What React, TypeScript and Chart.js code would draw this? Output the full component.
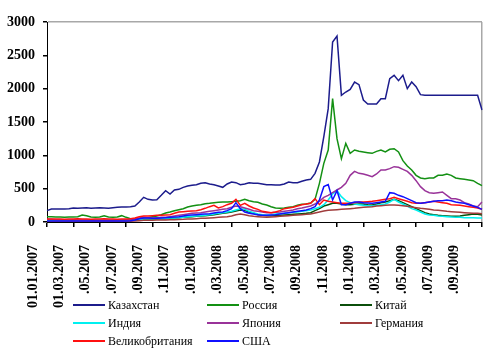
import React, { useEffect, useRef } from "react";
import { Chart, registerables } from "chart.js";

Chart.register(...registerables);

// Categories: 1st, 11th, 21st of each month, 01.01.2007 .. 01.10.2009
const years = [2007, 2008, 2009];
const days = ["01", "11", "21"];
const dates: string[] = [];
for (const y of years) {
  for (let m = 1; m <= 12; m++) {
    if (y === 2009 && m > 9) break;
    for (const d of days) dates.push(`${d}.${String(m).padStart(2, "0")}.${y}`);
  }
}
dates.push("01.10.2009");

const tickLabels = [
  "01.01.2007", "01.03.2007", ".05.2007", ".07.2007", ".09.2007", ".11.2007",
  ".01.2008", ".03.2008", ".05.2008", ".07.2008", ".09.2008", ".11.2008",
  ".01.2009", ".03.2009", ".05.2009", ".07.2009", ".09.2009",
];

const yTicks = [0, 500, 1000, 1500, 2000, 2500, 3000];

const kazakhstan = [
  170, 195, 195, 195, 195, 200, 210, 205, 210, 215, 205, 210,
  215, 210, 205, 215, 220, 225, 225, 230, 240, 300, 370, 340,
  330, 335, 400, 470, 420, 480, 490, 520, 540, 550, 560, 580,
  590, 570, 560, 540, 520, 570, 600, 590, 560, 570, 590, 580,
  580, 570, 560, 560, 555, 555, 570, 600, 590, 590, 610, 630,
  640, 730, 900, 1280, 1700, 2700, 2790, 1900, 1950, 1990, 2100, 2060,
  1830, 1770, 1770, 1770, 1850, 1850, 2150, 2200, 2120, 2200, 2000, 2100,
  2030, 1910, 1900, 1900, 1900, 1900, 1900, 1900, 1900, 1900, 1900, 1900,
  1900, 1900, 1900, 1680,
];
const russia = [
  80, 80, 75, 75, 70, 75, 75, 80, 105, 95, 75, 70,
  75, 95, 75, 70, 75, 95, 70, 50, 45, 50, 55, 65,
  80, 90, 110, 135, 150, 170, 185, 200, 225, 240, 250, 260,
  275, 280, 290, 295, 300, 300, 305, 310, 320, 340, 320, 305,
  295, 270, 255, 230, 210, 205, 210, 220, 230, 250, 265, 270,
  285, 340, 580, 880, 1080, 1850, 1250, 950, 1180, 1030, 1080, 1060,
  1050, 1040, 1030, 1060, 1080, 1050, 1090, 1100, 1050, 920, 840, 780,
  700, 660, 650, 660, 660, 700, 700, 720, 700, 660, 650, 640,
  630, 620, 580, 545,
];
const china = [
  20, 20, 20, 20, 20, 20, 20, 22, 22, 22, 22, 22,
  22, 24, 24, 24, 24, 25, 25, 25, 28, 30, 40, 40,
  40, 45, 50, 50, 55, 60, 65, 70, 75, 80, 85, 90,
  95, 100, 110, 120, 130, 140, 150, 165, 180, 175, 150, 130,
  110, 100, 95, 95, 100, 100, 105, 110, 115, 120, 125, 130,
  140, 170, 200, 240, 260, 280, 280, 270, 260, 260, 265, 270,
  270, 260, 255, 270, 290, 300, 320, 340, 320, 290, 260, 230,
  200, 170, 140, 120, 110, 100, 95, 90, 85, 85, 90, 100,
  110, 120, 115, 105,
];
const india = [
  25, 25, 25, 25, 25, 25, 25, 25, 25, 25, 25, 25,
  25, 25, 25, 25, 25, 25, 25, 28, 30, 35, 45, 45,
  45, 50, 50, 55, 60, 60, 65, 70, 80, 85, 90, 95,
  100, 110, 120, 130, 140, 150, 160, 180, 200, 190, 160, 140,
  120, 110, 105, 110, 120, 125, 130, 140, 145, 150, 160, 170,
  180, 200, 220, 260, 330, 420, 470, 380, 320, 290, 270, 260,
  250, 245, 240, 250, 260, 270, 300, 340, 300, 270, 240, 200,
  180, 150, 120, 105, 100, 90, 85, 80, 75, 70, 70, 65,
  65, 65, 60, 60,
];
const japan = [
  40, 40, 35, 35, 35, 30, 35, 30, 30, 30, 30, 28,
  28, 28, 28, 28, 30, 30, 32, 35, 45, 60, 70, 65,
  60, 65, 70, 70, 80, 90, 100, 110, 120, 130, 135, 140,
  150, 160, 170, 180, 190, 200, 220, 240, 230, 210, 190, 170,
  160, 150, 140, 140, 145, 150, 160, 170, 180, 200, 210, 225,
  240, 270, 310, 370, 400, 440, 480, 520, 580, 700, 760, 730,
  720, 700, 680, 720, 780, 780, 800, 830, 820, 790, 760, 700,
  620, 530, 470, 440, 430, 440, 450, 400, 350, 350, 330, 290,
  270, 240, 230, 300,
];
const germany = [
  8, 8, 8, 8, 8, 8, 8, 8, 8, 8, 8, 8,
  8, 8, 8, 8, 8, 8, 10, 12, 15, 20, 25, 25,
  25, 30, 30, 30, 32, 35, 38, 40, 45, 45, 50, 55,
  55, 60, 65, 70, 75, 80, 90, 110, 120, 110, 95, 85,
  80, 75, 70, 75, 80, 85, 90, 95, 100, 105, 110, 115,
  120, 135, 150, 165, 175, 180, 185, 190, 195, 200, 205, 215,
  220, 225, 230, 240, 245, 250, 255, 255, 250, 245, 235, 225,
  215, 205, 200, 190, 180, 175, 170, 160, 155, 150, 145, 140,
  135, 130, 130, 125,
];
const uk = [
  45, 45, 45, 45, 40, 45, 45, 50, 45, 45, 40, 45,
  45, 50, 45, 45, 40, 45, 45, 50, 60, 80, 90, 90,
  95, 100, 100, 105, 110, 130, 150, 155, 160, 165, 170, 185,
  205, 230, 250, 210, 230, 260, 280, 340, 250, 280, 240, 210,
  190, 160, 150, 140, 150, 170, 200, 210, 220, 240, 260, 270,
  280, 350, 260, 330, 310, 300, 290, 280, 280, 280, 290, 300,
  300, 305, 310, 320, 330, 340, 350, 370, 350, 330, 310, 290,
  280, 280, 290, 300, 310, 300, 290, 280, 260, 255, 250, 240,
  230, 220, 210, 190,
];
const usa = [
  15, 15, 15, 15, 15, 15, 15, 15, 15, 15, 15, 15,
  15, 15, 15, 15, 15, 15, 15, 20, 30, 50, 60, 60,
  55, 55, 60, 65, 70, 75, 80, 90, 100, 105, 110, 115,
  120, 125, 135, 145, 150, 170, 200, 290, 200, 150, 130, 120,
  110, 100, 100, 105, 110, 120, 130, 140, 150, 160, 170, 180,
  200, 230, 330, 530, 560, 330, 470, 260, 260, 280, 300, 300,
  290, 285, 280, 290, 300, 310, 440, 430, 400, 380, 350, 320,
  290, 280, 290, 300, 310, 320, 320, 330, 320, 300, 290, 280,
  260, 240, 220, 190,
];

const seriesNames = [
  "Казахстан", "Россия", "Китай", "Индия", "Япония", "Германия", "Великобритания", "США",
];
const seriesValues = [kazakhstan, russia, china, india, japan, germany, uk, usa];
const seriesColors = [
  "#1c1c8c", "#139013", "#0b4f0b", "#00f0f0", "#993399", "#a03c3c", "#ff1010", "#1010ff",
];

const FONT = '"Liberation Serif", "Times New Roman", serif';

const gridLegend = {
  id: "gridLegend",
  afterDraw(chart: any) {
    const ctx = chart.ctx;
    const colX = [73, 207, 340];
    ctx.save();
    ctx.font = `12px ${FONT}`;
    ctx.textBaseline = "middle";
    ctx.textAlign = "left";
    chart.data.datasets.forEach((ds: any, i: number) => {
      const x = colX[i % 3];
      const y = 305 + Math.floor(i / 3) * 18;
      ctx.strokeStyle = ds.borderColor;
      ctx.lineWidth = 2;
      ctx.beginPath();
      ctx.moveTo(x, y);
      ctx.lineTo(x + 32, y);
      ctx.stroke();
      ctx.fillStyle = "#000";
      ctx.fillText(ds.label, x + 35, y + 1);
    });
    ctx.restore();
  },
};

export default function App() {
  const ref = useRef<HTMLCanvasElement | null>(null);
  useEffect(() => {
    if (!ref.current) return;
    const last = dates.length - 1;
    const chart = new Chart(ref.current, {
      type: "line",
      data: {
        labels: dates,
        datasets: seriesNames.map((name, i) => ({
          label: name,
          data: seriesValues[i],
          borderColor: seriesColors[i],
          backgroundColor: seriesColors[i],
          borderWidth: 1.5,
          pointRadius: 0,
          tension: 0,
          fill: false,
          order: seriesNames.length - i,
        })),
      },
      options: {
        responsive: false,
        animation: false,
        layout: { padding: { top: 22, right: 16, left: 0, bottom: 0 } },
        plugins: {
          legend: { display: false },
          tooltip: { enabled: false },
        },
        scales: {
          x: {
            type: "category",
            offset: false,
            afterBuildTicks: (scale: any) => {
              scale.ticks = scale.ticks.filter(
                (t: any) => t.value % 6 === 0 || t.value === last
              );
            },
            afterFit: (scale: any) => {
              scale.height = 135;
              scale.paddingLeft = 0;
              scale.paddingRight = 0;
            },
            ticks: {
              autoSkip: false,
              maxRotation: 90,
              minRotation: 90,
              padding: 18,
              labelOffset: -14,
              color: "#000",
              font: { family: FONT, size: 14, weight: "bold" },
              callback: (value: any) => {
                const v = Number(value);
                return v % 6 === 0 ? tickLabels[v / 6] ?? "" : "";
              },
            },
            grid: {
              drawOnChartArea: true,
              color: (c: any) =>
                c.tick && c.tick.value === last ? "#a8a8a8" : "rgba(0,0,0,0)",
              lineWidth: 1.5,
              tickColor: "#000",
              tickLength: 5,
            },
            border: { display: true, color: "#000", width: 1 },
          },
          y: {
            min: 0,
            max: 3000,
            afterBuildTicks: (scale: any) => {
              scale.ticks = yTicks.map((v) => ({ value: v }));
            },
            afterFit: (scale: any) => {
              scale.width = 47;
            },
            ticks: {
              padding: 8,
              color: "#000",
              font: { family: FONT, size: 14, weight: "bold" },
              callback: (value: any) => String(value),
            },
            grid: {
              color: (c: any) =>
                c.tick && c.tick.value === 3000 ? "#a8a8a8" : "rgba(0,0,0,0)",
              lineWidth: 1.5,
              tickColor: "#000",
              tickLength: 4,
            },
            border: { display: true, color: "#000", width: 1 },
          },
        },
      },
      plugins: [gridLegend],
    });
    return () => chart.destroy();
  }, []);
  return (
    <div style={{ position: "absolute", left: 0, top: 0, width: 498, height: 357, background: "#fff" }}>
      <canvas ref={ref} width={498} height={357} />
    </div>
  );
}
